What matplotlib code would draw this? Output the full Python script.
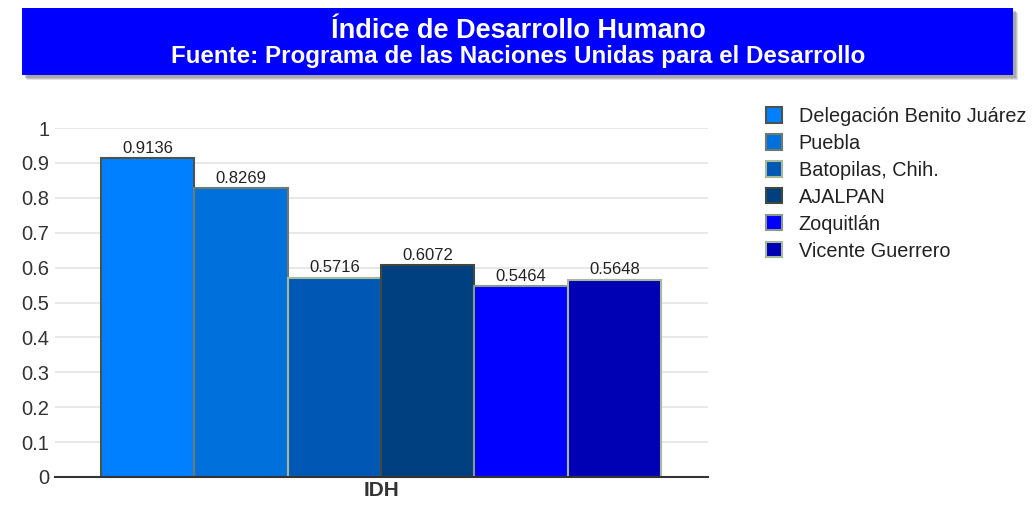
import matplotlib
matplotlib.use('Agg')
import matplotlib.pyplot as plt
from matplotlib.patches import Rectangle
from matplotlib import rcParams

rcParams['font.family'] = ['Liberation Sans', 'DejaVu Sans']

# data
places = ['Delegación Benito Juárez', 'Puebla', 'Batopilas, Chih.',
          'AJALPAN', 'Zoquitlán', 'Vicente Guerrero']
idh = [0.9136, 0.8269, 0.5716, 0.6072, 0.5464, 0.5648]
fill_colors = ['#0080FF', '#0070DD', '#0058B4', '#004080', '#0000FF', '#0000B4']
edge_colors = ['#4A544A', '#6E7A6E', '#A8B89A', '#3E4A3E', '#8A9A88', '#A8B89A']

fig = plt.figure(figsize=(10.32, 5.12), dpi=100)

# title banner with soft shadow
for k, a in enumerate([0.25, 0.35, 0.45]):
    off = 5 - k
    fig.patches.append(Rectangle(((22 + off)/1032, 1-(75 + off)/512), 991/1032, 67/512,
                                 transform=fig.transFigure, facecolor='#8a8a8a',
                                 edgecolor='none', alpha=a, zorder=0))
fig.patches.append(Rectangle((22/1032, 1-75/512), 991/1032, 67/512,
                             transform=fig.transFigure, facecolor='#0000FF',
                             edgecolor='none', zorder=1))
fig.text(518/1032, 1-31/512, 'Índice de Desarrollo Humano', color='white',
         fontsize=19.5, fontweight='bold', ha='center', va='center')
fig.text(518/1032, 1-57/512, 'Fuente: Programa de las Naciones Unidas para el Desarrollo',
         color='white', fontsize=17.4, fontweight='bold', ha='center', va='center')

ax = fig.add_axes([55/1032, 35/512, 653/1032, 349/512])
xs = list(range(len(places)))
bars = ax.bar(xs, idh, width=1.0, color=fill_colors, edgecolor=edge_colors,
              linewidth=1.5, label=places, zorder=3)
for x, v in zip(xs, idh):
    ax.text(x, v + 0.007, f'{v:.4f}', ha='center', va='bottom', fontsize=12,
            color='#222222', zorder=4)

ax.set_xlim(-0.99, 6.0)
ax.set_ylim(0, 1)
ax.set_yticks([0, 0.1, 0.2, 0.3, 0.4, 0.5, 0.6, 0.7, 0.8, 0.9, 1])
ax.set_yticklabels(['0', '0.1', '0.2', '0.3', '0.4', '0.5', '0.6', '0.7', '0.8', '0.9', '1'])
ax.tick_params(axis='y', length=0, labelsize=14.5, colors='#333333', pad=4)
ax.set_xticks([2.5])
ax.set_xticklabels(['IDH'], fontweight='bold', fontsize=15, color='#333333')
ax.tick_params(axis='x', length=0, pad=3)
ax.grid(axis='y', color='#e4e4e4', linewidth=1.2, zorder=0)
for s in ['top', 'right', 'left']:
    ax.spines[s].set_visible(False)
ax.spines['bottom'].set_color('#333333')
ax.spines['bottom'].set_linewidth(1.5)
ax.spines['bottom'].set_zorder(5)

leg = fig.legend(handles=bars, labels=places, loc='upper left',
                 bbox_to_anchor=(758/1032, 1-99/512), frameon=False,
                 fontsize=14.3, handlelength=0.8, handleheight=0.8,
                 labelspacing=0.4, handletextpad=0.85, borderaxespad=0)
for t in leg.get_texts():
    t.set_color('#222222')

fig.savefig('out.png', dpi=100)
